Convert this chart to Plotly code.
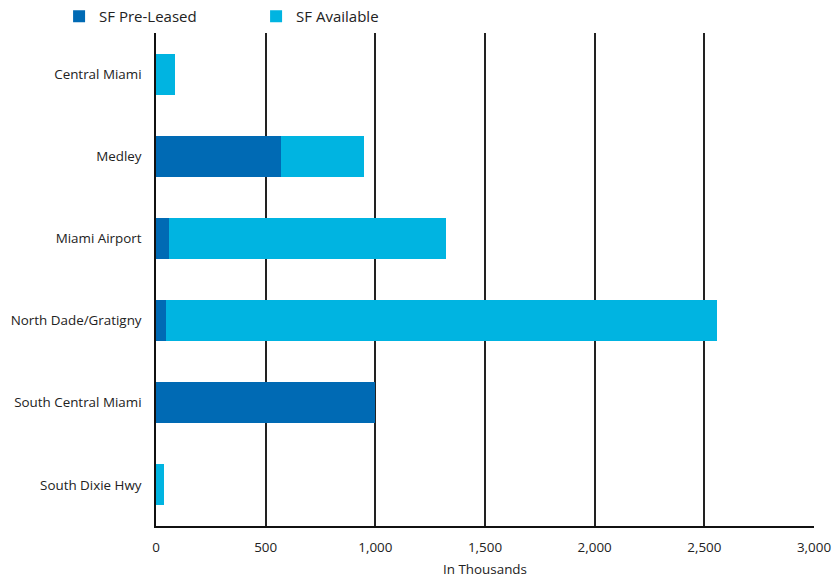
import plotly.graph_objects as go

# Submarkets, top to bottom
submarkets = [
    "Central Miami",
    "Medley",
    "Miami Airport",
    "North Dade/Gratigny",
    "South Central Miami",
    "South Dixie Hwy",
]

# Square feet, in thousands
sf_pre_leased = [0, 570, 61, 47, 1000, 0]
sf_available = [87, 379, 1261, 2509, 0, 35]

x_ticks = [0, 500, 1000, 1500, 2000, 2500, 3000]

DARK_BLUE = "#006ab4"
LIGHT_BLUE = "#00b4e1"
FONT = "Open Sans, Noto Sans, sans-serif"

fig = go.Figure()
fig.add_trace(go.Bar(
    y=submarkets, x=sf_pre_leased, orientation="h",
    name="SF Pre-Leased", marker=dict(color=DARK_BLUE, line=dict(width=0)),
))
fig.add_trace(go.Bar(
    y=submarkets, x=sf_available, orientation="h",
    name="SF Available", marker=dict(color=LIGHT_BLUE, line=dict(width=0)),
))

fig.update_layout(
    width=838, height=578,
    margin=dict(l=156, r=24, t=33, b=52, autoexpand=False),
    paper_bgcolor="white", plot_bgcolor="white",
    barmode="stack", bargap=0.5,
    font=dict(family=FONT, size=13.4, color="#222222"),
    legend=dict(
        orientation="h", xref="container", yref="container",
        x=0.0705, y=1.0, xanchor="left", yanchor="top",
        font=dict(size=15, color="#222222"), entrywidth=152, entrywidthmode="pixels",
        traceorder="normal", bgcolor="rgba(0,0,0,0)",
    ),
    showlegend=True,
)
fig.update_xaxes(
    range=[0, 3000], tickvals=x_ticks,
    ticktext=[f"{v:,}" for v in x_ticks],
    showgrid=True, gridcolor="#222222", gridwidth=1.5,
    showline=True, linecolor="#111111", linewidth=1.5,
    zeroline=False, ticks="", ticklabelstandoff=8, automargin=False,
    title=dict(text="In Thousands", font=dict(size=13.4), standoff=12),
    fixedrange=True,
)
fig.update_yaxes(
    autorange="reversed", showgrid=False,
    showline=True, linecolor="#111111", linewidth=1.5,
    ticks="", ticklabelstandoff=10, automargin=False, fixedrange=True,
)

fig.write_html("out.html")
